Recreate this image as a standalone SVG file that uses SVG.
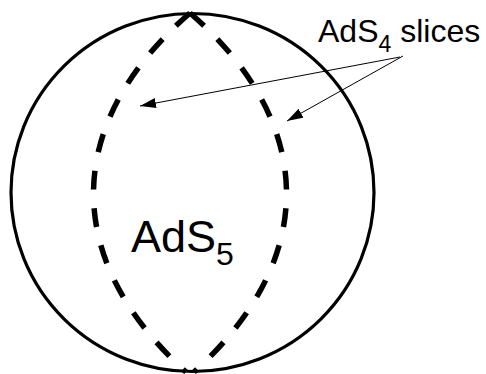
<svg xmlns="http://www.w3.org/2000/svg" width="486" height="374" viewBox="0 0 486 374">
<style>
.outline{fill:none;stroke:#000;stroke-width:3.2}
.slice{fill:none;stroke:#000;stroke-width:5.5;stroke-dasharray:19 19}
.conn{fill:none;stroke:#000;stroke-width:1}
.lbl{font-family:"Liberation Sans",Arial,sans-serif;fill:#000}
</style>
<defs>
<marker id="ah" markerUnits="userSpaceOnUse" markerWidth="18" markerHeight="10" refX="16" refY="5" orient="auto">
<path d="M0,0 L16,5 L0,10 Z" fill="#000"/>
</marker>
</defs>
<g id="ads5">
<ellipse class="outline" cx="192.5" cy="192.5" rx="181.5" ry="179"/>
<text class="lbl" x="131" y="252" font-size="45">AdS<tspan font-size="32" dy="13">5</tspan></text>
</g>
<g id="slice-left">
<path class="slice" pathLength="422" d="M190,13 C62,124 62,260 186,372"/>
</g>
<g id="slice-right">
<path class="slice" pathLength="422" d="M190,13 C318,124 318,260 194,372"/>
</g>
<g id="label">
<text class="lbl" x="318" y="42" font-size="32">AdS<tspan font-size="23" dy="10">4</tspan><tspan dy="-10"> slices</tspan></text>
</g>
<g id="connectors">
<line class="conn" x1="400" y1="57" x2="140" y2="106" marker-end="url(#ah)"/>
<line class="conn" x1="403" y1="56" x2="287" y2="121" marker-end="url(#ah)"/>
</g>
</svg>
